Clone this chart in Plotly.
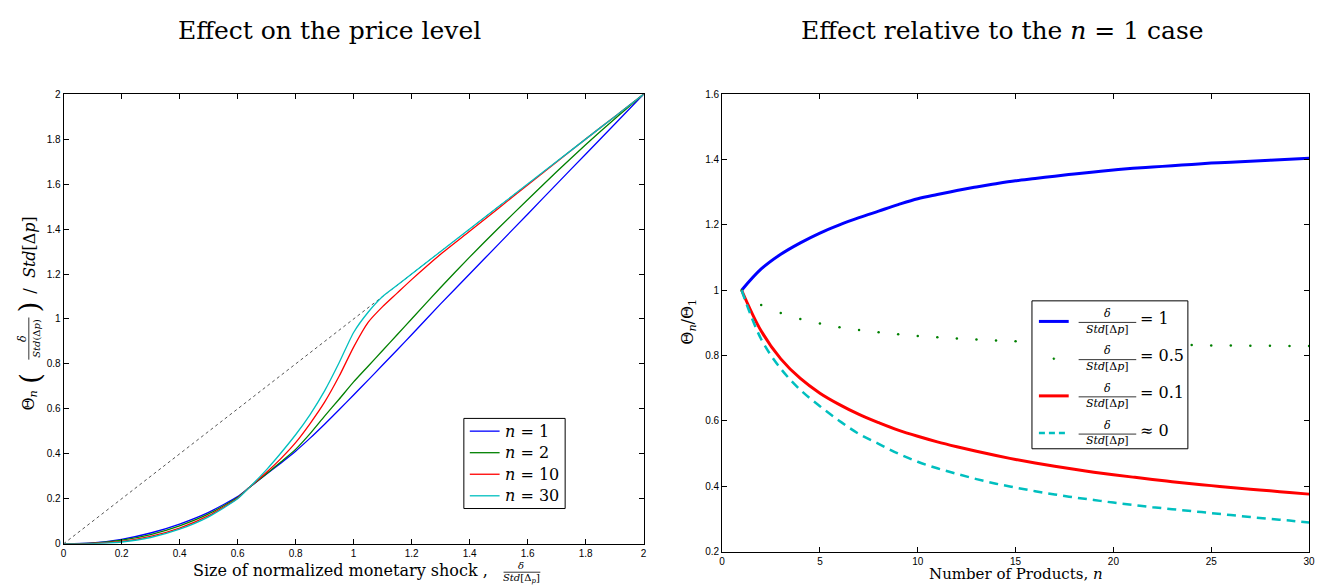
import plotly.graph_objects as go

W, H = 1324, 588

# ---------------- Left panel data ----------------
shock = [0.0, 0.1, 0.2, 0.3, 0.4, 0.5, 0.6, 0.64, 0.7, 0.75, 0.8, 0.85, 0.9, 0.95, 1.0, 1.05, 1.1, 1.15, 1.2, 1.3, 1.4, 1.5, 1.6, 1.7, 1.8, 1.9, 2.0]
theta_n1 = [0.0, 0.004, 0.02, 0.048, 0.088, 0.14, 0.21, 0.25, 0.31, 0.36, 0.412, 0.47, 0.532, 0.596, 0.662, 0.728, 0.795, 0.862, 0.93, 1.067, 1.2, 1.333, 1.466, 1.6, 1.733, 1.866, 2.0]
theta_n2 = [0.0, 0.003, 0.016, 0.041, 0.08, 0.133, 0.206, 0.25, 0.312, 0.365, 0.42, 0.49, 0.568, 0.643, 0.72, 0.79, 0.86, 0.93, 1.0, 1.14, 1.275, 1.405, 1.53, 1.655, 1.775, 1.89, 2.0]
theta_n10 = [0.0, 0.002, 0.011, 0.033, 0.07, 0.125, 0.203, 0.25, 0.318, 0.38, 0.45, 0.535, 0.63, 0.745, 0.875, 0.985, 1.055, 1.115, 1.175, 1.288, 1.39, 1.493, 1.596, 1.698, 1.8, 1.9, 2.0]
theta_n30 = [0.0, 0.001, 0.008, 0.028, 0.065, 0.12, 0.2, 0.25, 0.33, 0.405, 0.485, 0.575, 0.68, 0.805, 0.94, 1.03, 1.1, 1.15, 1.2, 1.3, 1.4, 1.5, 1.6, 1.7, 1.8, 1.9, 2.0]
diag_x = [0.0, 2.0]
diag_y = [0.0, 2.0]
left_names = ["<i>n</i> = 1", "<i>n</i> = 2", "<i>n</i> = 10", "<i>n</i> = 30"]
left_colors = ["#0000ff", "#008000", "#ff0000", "#00bfbf"]

# ---------------- Right panel data ----------------
n_products = list(range(1, 31))
ratio_d1 = [1.0, 1.065, 1.11, 1.145, 1.175, 1.2, 1.222, 1.242, 1.262, 1.28, 1.293, 1.305, 1.316, 1.326, 1.335,
            1.342, 1.349, 1.356, 1.362, 1.368, 1.373, 1.377, 1.381, 1.385, 1.389, 1.392, 1.395, 1.398, 1.401, 1.404]
ratio_d05 = [1.0, 0.955, 0.93, 0.912, 0.898, 0.887, 0.878, 0.871, 0.865, 0.86, 0.856, 0.852, 0.849, 0.846, 0.844,
             0.842, 0.84, 0.838, 0.837, 0.836, 0.835, 0.834, 0.833, 0.832, 0.831, 0.831, 0.83, 0.83, 0.829, 0.829]
ratio_d01 = [1.0, 0.875, 0.79, 0.73, 0.685, 0.65, 0.62, 0.595, 0.572, 0.553, 0.536, 0.521, 0.507, 0.494, 0.482,
             0.471, 0.461, 0.452, 0.443, 0.435, 0.428, 0.421, 0.414, 0.408, 0.402, 0.396, 0.391, 0.386, 0.381, 0.376]
ratio_d0 = [1.0, 0.85, 0.76, 0.695, 0.645, 0.6, 0.56, 0.53, 0.5, 0.475, 0.455, 0.438, 0.422, 0.408, 0.396,
            0.385, 0.375, 0.366, 0.358, 0.35, 0.343, 0.336, 0.33, 0.324, 0.318, 0.312, 0.306, 0.3, 0.295, 0.289]
right_values = ["= 1", "= 0.5", "= 0.1", "≈ 0"]

SERIF = "DejaVu Serif"
SANS = "Liberation Sans"


def px(x):
    return x / W


def py(y):
    return 1 - y / H


fig = go.Figure()

# Left panel
fig.add_trace(go.Scatter(x=diag_x, y=diag_y, mode="lines", line=dict(color="#555555", width=1, dash="dot"),
                         showlegend=False, hoverinfo="skip", xaxis="x", yaxis="y"))
for name, col, ys in zip(left_names, left_colors, [theta_n1, theta_n2, theta_n10, theta_n30]):
    fig.add_trace(go.Scatter(x=shock, y=ys, mode="lines", name=name, showlegend=False,
                             line=dict(color=col, width=1.3, shape="spline", smoothing=0.6),
                             xaxis="x", yaxis="y"))

# Right panel
fig.add_trace(go.Scatter(x=n_products, y=ratio_d1, mode="lines", line=dict(color="#0000ff", width=3, shape="spline"),
                         showlegend=False, xaxis="x2", yaxis="y2"))
fig.add_trace(go.Scatter(x=n_products, y=ratio_d05, mode="markers", marker=dict(color="#008000", size=2.5),
                         showlegend=False, xaxis="x2", yaxis="y2"))
fig.add_trace(go.Scatter(x=n_products, y=ratio_d01, mode="lines", line=dict(color="#ff0000", width=3, shape="spline"),
                         showlegend=False, xaxis="x2", yaxis="y2"))
fig.add_trace(go.Scatter(x=n_products, y=ratio_d0, mode="lines",
                         line=dict(color="#00bfbf", width=2.5, dash="9px,6px", shape="spline"),
                         showlegend=False, xaxis="x2", yaxis="y2"))

axis_common = dict(showline=True, linecolor="black", linewidth=1, mirror="allticks", ticks="inside",
                   ticklen=5, tickcolor="black", showgrid=False, zeroline=False,
                   tickfont=dict(family=SANS, size=10, color="black"))

fig.update_layout(
    width=W, height=H,
    margin=dict(l=0, r=0, t=0, b=0),
    paper_bgcolor="white", plot_bgcolor="white",
    xaxis=dict(domain=[px(61), px(645)], range=[0, 2], tick0=0, dtick=0.2, anchor="y", **axis_common),
    yaxis=dict(domain=[py(549), py(90)], range=[0, 2], tick0=0, dtick=0.2, anchor="x", **axis_common),
    xaxis2=dict(domain=[px(724), px(1315)], range=[0, 30], tick0=0, dtick=5, anchor="y2", **axis_common),
    yaxis2=dict(domain=[py(557), py(90)], range=[0.2, 1.6], tick0=0.2, dtick=0.2, anchor="x2", **axis_common),
    showlegend=False,
)

ann = []
shapes = []


def text(x, y, t, size, angle=0, xanchor="center", family=SERIF):
    ann.append(dict(x=px(x), y=py(y), xref="paper", yref="paper", text=t, showarrow=False,
                    font=dict(family=family, size=size, color="black"), textangle=angle,
                    xanchor=xanchor, yanchor="middle"))


def hline(x0, x1, y, col="black", wd=0.8, dash="solid"):
    shapes.append(dict(type="line", xref="paper", yref="paper", x0=px(x0), x1=px(x1), y0=py(y), y1=py(y),
                       line=dict(color=col, width=wd, dash=dash), layer="above"))


# Titles
text(329, 25, "Effect on the price level", 25)
text(1006, 25, "Effect relative to the <i>n</i> = 1 case", 25)

# Left x-axis title
text(340, 576, "Size of normalized monetary shock ,", 16)
text(522, 571, "<i>δ</i>", 10)
hline(504, 541, 578)
text(522, 584, "<i>Std</i>[Δ<sub><i>p</i></sub>]", 10)

# Left y-axis title (rotated pieces)
text(27, 403, "Θ<sub><i>n</i></sub>", 16, angle=-90)
text(27, 380, "(", 28, angle=-90)
text(19, 339, "<i>δ</i>", 11, angle=-90)
shapes.append(dict(type="line", xref="paper", yref="paper", x0=px(26), x1=px(26), y0=py(318), y1=py(361),
                   line=dict(color="black", width=0.8)))
text(33, 339, "<i>Std</i>(Δ<i>p</i>)", 10, angle=-90)
text(27, 307, ")", 28, angle=-90)
text(27, 254, "/  <i>Std</i>[Δ<i>p</i>]", 16, angle=-90)

# Right axis titles
text(1020, 580, "Number of Products, <i>n</i>", 15)
text(690, 322, "Θ<sub><i>n</i></sub>/Θ<sub>1</sub>", 16, angle=-90)

# Left custom legend
shapes.append(dict(type="rect", xref="paper", yref="paper", x0=px(464), x1=px(566), y0=py(421), y1=py(513),
                   line=dict(color="black", width=1), fillcolor="white", layer="above"))
for r, col, name in zip([434, 456, 478, 500], left_colors, left_names):
    hline(470, 500, r, col=col, wd=1.3)
    text(503, r, name, 16, xanchor="left")

# Right custom legend
shapes.append(dict(type="rect", xref="paper", yref="paper", x0=px(1036), x1=px(1193), y0=py(301), y1=py(452),
                   line=dict(color="black", width=1), fillcolor="white", layer="above"))
rows = [319, 357, 395, 433]
samples = [("#0000ff", 3, "solid"), ("#008000", 0, "dot"), ("#ff0000", 3, "solid"), ("#00bfbf", 2.5, "6px,4px")]
for r, (col, wd, ds), val in zip(rows, samples, right_values):
    if wd > 0:
        hline(1043, 1073, r + 3, col=col, wd=wd, dash=ds)
    else:
        shapes.append(dict(type="circle", xref="paper", yref="paper", x0=px(1057), x1=px(1059),
                           y0=py(r + 2), y1=py(r + 4), line=dict(color=col, width=0.5), fillcolor=col,
                           layer="above"))
    text(1112, r - 5, "<i>δ</i>", 11)
    hline(1083, 1141, r + 4)
    text(1112, r + 11, "<i>Std</i>[Δ<i>p</i>]", 11)
    text(1143, r, val, 16, xanchor="left")

fig.update_layout(annotations=ann, shapes=shapes)

fig.write_html("out.html")
